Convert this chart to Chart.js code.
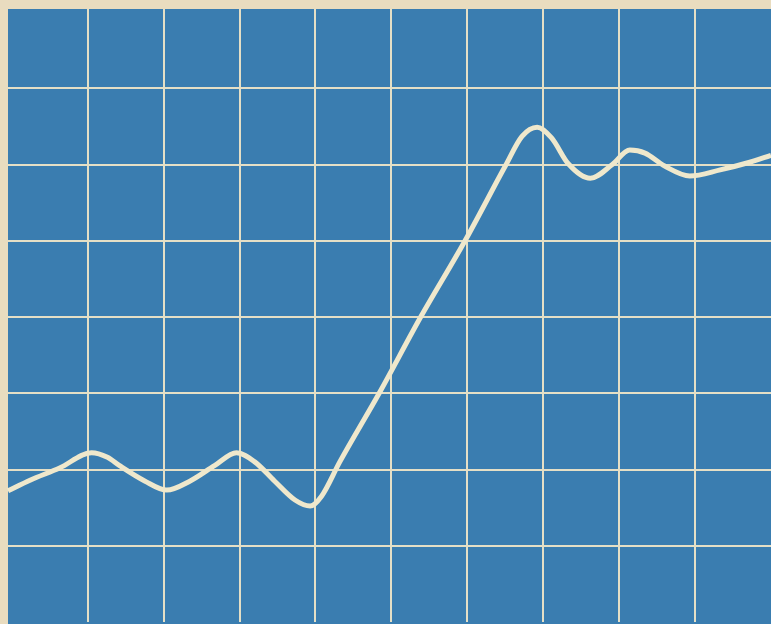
<!DOCTYPE html>
<html>
<head>
<meta charset="utf-8">
<script src="https://cdn.jsdelivr.net/npm/chart.js@4"></script>
<style>
  html, body { margin: 0; padding: 0; background: #e9dcbf; }
  #wrap { width: 771px; height: 624px; }
</style>
</head>
<body>
<div id="wrap"><canvas id="myChart"></canvas></div>
<script>
// trace, in grid divisions (10 across, 8 up)
var traceX = [-0.05, 0.24, 0.63, 1.05, 1.26, 1.42, 1.75, 2.04, 2.35, 2.67, 2.96, 3.20, 3.46, 3.73, 3.93, 4.08, 4.32, 4.85, 5.38, 5.97, 6.50, 6.72, 6.92, 7.11, 7.33, 7.62, 7.91, 8.14, 8.34, 8.60, 8.93, 9.33, 9.72, 10.0];
var traceY = [1.72, 1.86, 2.02, 2.22, 2.16, 2.05, 1.85, 1.73, 1.85, 2.05, 2.22, 2.10, 1.85, 1.60, 1.52, 1.65, 2.10, 3.02, 3.99, 5.00, 5.98, 6.37, 6.49, 6.35, 6.01, 5.82, 6.00, 6.19, 6.15, 5.98, 5.85, 5.93, 6.03, 6.12];
var xDivisions = 10, yDivisions = 8;

var points = traceX.map(function(x, i){ return {x: x, y: traceY[i]}; });

var screenFill = {
	id: 'screenFill',
	beforeDraw: function(chart){
		var c = chart.ctx, a = chart.chartArea;
		c.save();
		c.fillStyle = '#3a7db0';
		c.fillRect(a.left, a.top, a.right - a.left, a.bottom - a.top + 2);
		c.restore();
	}
};

// only the inner divisions are ruled, the screen edges are not
function gridColor(max){
	return function(ctx){
		var v = ctx.tick ? ctx.tick.value : 0;
		var inner = Math.abs(v - Math.round(v)) < 0.001 && v > 0 && v < max;
		return inner ? '#e4dfc6' : 'rgba(0,0,0,0)';
	};
}

var myChart = new Chart(document.getElementById('myChart'), {
	type: 'line',
	data: {
		datasets: [{
			data: points,
			borderColor: '#efe8cc',
			borderWidth: 5,
			pointRadius: 0,
			cubicInterpolationMode: 'monotone',
			clip: false
		}]
	},
	options: {
		animation: false,
		responsive: true,
		maintainAspectRatio: false,
		layout: { padding: { left: 8, top: 9, right: 0, bottom: 2 } },
		plugins: { legend: { display: false }, tooltip: { enabled: false } },
		scales: {
			x: {
				type: 'linear', min: -0.05, max: xDivisions,
				ticks: { display: false, stepSize: 1 },
				grid: { color: gridColor(xDivisions), lineWidth: 2, drawTicks: false },
				border: { display: false }
			},
			y: {
				type: 'linear', min: 0, max: yDivisions + 0.04,
				ticks: { display: false, stepSize: 1 },
				grid: { color: gridColor(yDivisions), lineWidth: 2, drawTicks: false },
				border: { display: false }
			}
		}
	},
	plugins: [screenFill]
});
</script>
</body>
</html>
